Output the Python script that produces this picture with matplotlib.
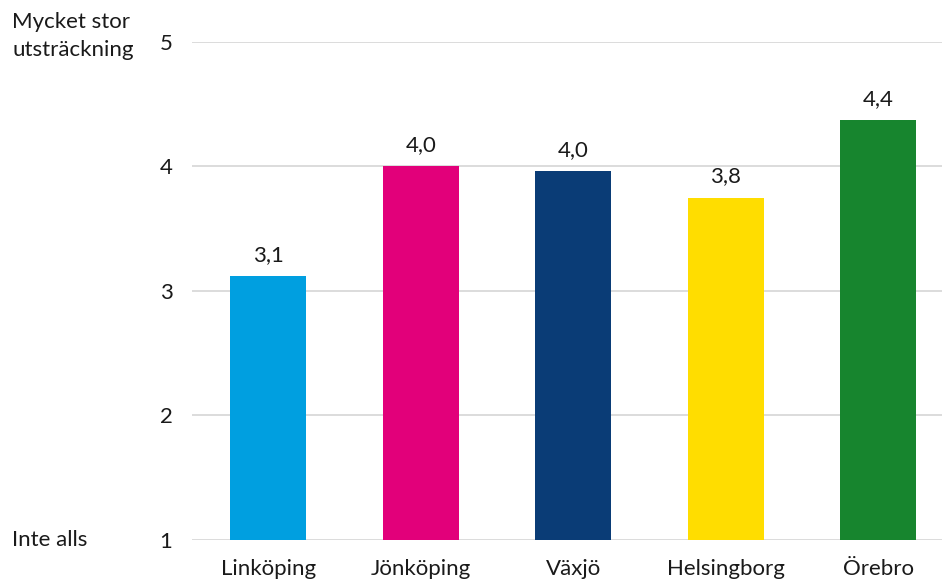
import matplotlib.pyplot as plt

cities = ['Linköping', 'Jönköping', 'Växjö', 'Helsingborg', 'Örebro']
scores = [3.12, 4.00, 3.96, 3.75, 4.37]
colors = ['#009FE0', '#E2007A', '#0A3C76', '#FFDD00', '#17852E']
yticks = [1, 2, 3, 4, 5]

plt.rcParams['font.family'] = ['Lato', 'DejaVu Sans']

fig = plt.figure(figsize=(9.42, 5.82), dpi=100)
ax = fig.add_axes([0.2038, 0.0722, 0.8095, 0.8557])

x = range(len(cities))
ax.bar(x, [s - 1 for s in scores], bottom=1, width=0.5, color=colors, zorder=3)

for xi, s in zip(x, scores):
    ax.text(xi, s + 0.09, f'{s:.1f}'.replace('.', ','), ha='center', va='bottom',
            fontsize=16, color='#1a1a1a')

ax.set_xlim(-0.5, len(cities) - 0.5)
ax.set_ylim(1, 5)
ax.set_yticks(yticks)
ax.set_xticks(list(x))
ax.set_xticklabels(cities)
ax.tick_params(axis='both', length=0, labelsize=16, colors='#1a1a1a')
ax.tick_params(axis='y', pad=14)
ax.tick_params(axis='x', pad=14)
ax.grid(axis='y', color='#d9d9d9', linewidth=1.3, zorder=0)
for sp in ax.spines.values():
    sp.set_visible(False)

fig.text(12 / 942, 1 - 12 / 582, 'Mycket stor\nutsträckning', ha='left', va='top',
         fontsize=16, color='#1a1a1a', linespacing=1.5)
fig.text(12 / 942, 1 - 540 / 582, 'Inte alls', ha='left', va='center',
         fontsize=16, color='#1a1a1a')

fig.savefig('out.png', dpi=100)
